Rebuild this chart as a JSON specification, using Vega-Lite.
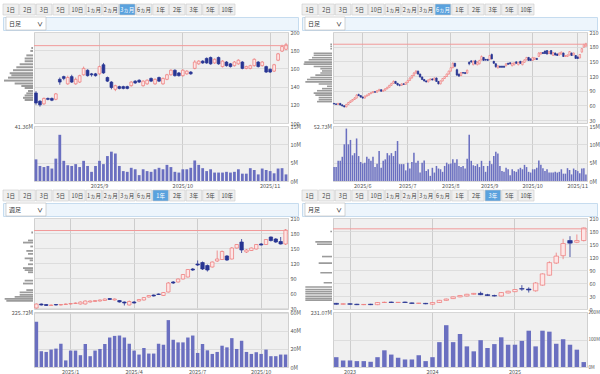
{
"$schema":"https://vega.github.io/schema/vega-lite/v6.json",
"padding":{"left":2,"top":3,"right":0,"bottom":0},
"background":"white",
"config":{"font":"Noto Sans CJK JP","view":{"stroke":null},
"axis":{"title":null,"domain":false,"ticks":false,"labelFontSize":5.5,"labelColor":"#555555","labelPadding":2,"labelOverlap":false,"minExtent":0,"gridColor":"#d8d8d8","gridWidth":0.8},
"title":{"fontSize":5.5,"fontWeight":"normal","color":"#555555"}},
"datasets":{
"btn":[{"b":"1日"},{"b":"2日"},{"b":"3日"},{"b":"5日"},{"b":"10日"},{"b":"1ヵ月"},{"b":"2ヵ月"},{"b":"3ヵ月"},{"b":"6ヵ月"},{"b":"1年"},{"b":"2年"},{"b":"3年"},{"b":"5年"},{"b":"10年"}],
"d":[
{"t":0,"o":64,"h":65,"l":62,"c":63,"v":3.8},{"t":1,"o":63,"h":64,"l":61,"c":62,"v":3.8},{"t":2,"o":62,"h":65,"l":61,"c":64,"v":5.5},{"t":3,"o":64,"h":65,"l":60,"c":61,"v":5.5},{"t":4,"o":61,"h":62,"l":58,"c":59,"v":6.6},{"t":5,"o":59,"h":60,"l":56,"c":57,"v":10},{"t":6,"o":57,"h":63,"l":56,"c":62,"v":14.3},{"t":7,"o":62,"h":67,"l":61,"c":66,"v":10},{"t":8,"o":66,"h":70,"l":65,"c":69,"v":11.2},{"t":9,"o":69,"h":73,"l":68,"c":72,"v":7},
{"t":10,"o":72,"h":77,"l":71,"c":75,"v":7.6},{"t":11,"o":75,"h":83,"l":74,"c":81,"v":11.6},{"t":12,"o":82,"h":84,"l":79,"c":80,"v":6.8},{"t":13,"o":80,"h":81,"l":76,"c":77,"v":5.2},{"t":14,"o":77,"h":78,"l":74,"c":75,"v":4.8},{"t":15,"o":75,"h":80,"l":74,"c":79,"v":5},{"t":16,"o":79,"h":82,"l":78,"c":81,"v":6.6},{"t":17,"o":81,"h":85,"l":80,"c":84,"v":6.1},{"t":18,"o":84,"h":87,"l":83,"c":86,"v":5.5},{"t":19,"o":86,"h":89,"l":85,"c":88,"v":6.6},
{"t":20,"o":88,"h":89,"l":86,"c":87,"v":3.8},{"t":21,"o":87,"h":91,"l":86,"c":90,"v":4.7},{"t":22,"o":90,"h":94,"l":89,"c":92,"v":8.2},{"t":23,"o":92,"h":93,"l":88,"c":89,"v":3.6},{"t":24,"o":89,"h":92,"l":88,"c":91,"v":5.5},{"t":25,"o":91,"h":95,"l":90,"c":94,"v":5.9},{"t":26,"o":94,"h":98,"l":93,"c":97,"v":7.6},{"t":27,"o":97,"h":102,"l":96,"c":101,"v":7},{"t":28,"o":101,"h":106,"l":100,"c":105,"v":7.6},{"t":29,"o":105,"h":111,"l":104,"c":109,"v":6.8},
{"t":30,"o":109,"h":110,"l":104,"c":105,"v":8.2},{"t":31,"o":105,"h":106,"l":100,"c":102,"v":10.9},{"t":32,"o":102,"h":103,"l":99,"c":101,"v":4.6},{"t":33,"o":101,"h":105,"l":100,"c":104,"v":4.6},{"t":34,"o":104,"h":105,"l":102,"c":103,"v":4.6},{"t":35,"o":103,"h":108,"l":102,"c":107,"v":2.9},{"t":36,"o":107,"h":112,"l":106,"c":111,"v":5},{"t":37,"o":111,"h":117,"l":110,"c":116,"v":3.4},{"t":38,"o":116,"h":122,"l":115,"c":121,"v":5.2},{"t":39,"o":121,"h":128,"l":120,"c":126,"v":7.7},
{"t":40,"o":126,"h":132,"l":125,"c":130,"v":5},{"t":41,"o":130,"h":131,"l":123,"c":124,"v":5.5},{"t":42,"o":124,"h":125,"l":117,"c":118,"v":2.3},{"t":43,"o":118,"h":119,"l":112,"c":113,"v":5},{"t":44,"o":113,"h":114,"l":109,"c":110,"v":5.6},{"t":45,"o":110,"h":111,"l":107,"c":108,"v":2.7},{"t":46,"o":108,"h":113,"l":107,"c":112,"v":3.2},{"t":47,"o":112,"h":115,"l":111,"c":114,"v":1.4},{"t":48,"o":114,"h":115,"l":111,"c":112,"v":3.6},{"t":49,"o":112,"h":117,"l":111,"c":116,"v":2.3},
{"t":50,"o":116,"h":117,"l":108,"c":109,"v":4.1},{"t":51,"o":109,"h":110,"l":103,"c":104,"v":3.4},{"t":52,"o":104,"h":111,"l":103,"c":110,"v":3.2},{"t":53,"o":110,"h":116,"l":109,"c":115,"v":2.5},{"t":54,"o":115,"h":120,"l":114,"c":119,"v":4.1},{"t":55,"o":119,"h":125,"l":118,"c":124,"v":5},{"t":56,"o":124,"h":131,"l":123,"c":130,"v":4.6},{"t":57,"o":130,"h":138,"l":129,"c":137,"v":4.8},{"t":58,"o":137,"h":148,"l":136,"c":146,"v":5.9},{"t":59,"o":146,"h":147,"l":138,"c":140,"v":5},
{"t":60,"o":133,"h":135,"l":120,"c":122,"v":5.9},{"t":61,"o":124,"h":125,"l":118,"c":120,"v":4.1},{"t":62,"o":121,"h":128,"l":120,"c":127,"v":3.8},{"t":63,"o":127,"h":128,"l":125,"c":126,"v":4.1},{"t":64,"o":127,"h":128,"l":124,"c":125,"v":3.4},{"t":65,"o":126,"h":133,"l":125,"c":132,"v":6.1},{"t":66,"o":148,"h":150,"l":142,"c":145,"v":12.6},{"t":67,"o":151,"h":152,"l":147,"c":149,"v":5.5},{"t":68,"o":143,"h":152,"l":142,"c":150,"v":4.3},{"t":69,"o":151,"h":153,"l":144,"c":145,"v":4.1},
{"t":70,"o":143,"h":150,"l":142,"c":148,"v":4.6},{"t":71,"o":145,"h":153,"l":144,"c":152,"v":3.8},{"t":72,"o":153,"h":162,"l":152,"c":160,"v":5.5},{"t":73,"o":158,"h":159,"l":151,"c":152,"v":4.1},{"t":74,"o":154,"h":155,"l":151,"c":153,"v":2.5},{"t":75,"o":154,"h":155,"l":151,"c":152,"v":4.1},{"t":76,"o":154,"h":163,"l":153,"c":162,"v":5.5},{"t":77,"o":164,"h":166,"l":154,"c":155,"v":4.6},{"t":78,"o":150,"h":151,"l":145,"c":146,"v":6.8},{"t":79,"o":145,"h":146,"l":137,"c":139,"v":8},
{"t":80,"o":137,"h":142,"l":135,"c":141,"v":7.5},{"t":81,"o":140,"h":141,"l":137,"c":138,"v":4.1},{"t":82,"o":140,"h":141,"l":137,"c":138,"v":2.7},{"t":83,"o":140,"h":141,"l":137,"c":138,"v":2.5},{"t":84,"o":141,"h":146,"l":140,"c":145,"v":3.6},{"t":85,"o":146,"h":147,"l":143,"c":144,"v":3.2},{"t":86,"o":147,"h":148,"l":144,"c":145,"v":1.6},{"t":87,"o":141,"h":147,"l":140,"c":146,"v":3.2},{"t":88,"o":143,"h":148,"l":142,"c":147,"v":2.7},{"t":89,"o":149,"h":150,"l":145,"c":146,"v":2.5},
{"t":90,"o":143,"h":149,"l":142,"c":148,"v":3.2},{"t":91,"o":150,"h":151,"l":145,"c":146,"v":3.6},{"t":92,"o":143,"h":150,"l":142,"c":149,"v":3.2},{"t":93,"o":148,"h":154,"l":147,"c":153,"v":4.4},{"t":94,"o":153,"h":159,"l":152,"c":158,"v":3.8},{"t":95,"o":158,"h":159,"l":151,"c":152,"v":2.5},{"t":96,"o":155,"h":156,"l":151,"c":152,"v":2.3},{"t":97,"o":152,"h":159,"l":151,"c":158,"v":3.2},{"t":98,"o":154,"h":158,"l":153,"c":157,"v":3.2},{"t":99,"o":156,"h":157,"l":153,"c":154,"v":3.6},
{"t":100,"o":160,"h":169,"l":159,"c":167,"v":5.6},{"t":101,"o":165,"h":169,"l":164,"c":168,"v":4.4},{"t":102,"o":168,"h":169,"l":165,"c":166,"v":3.5},{"t":103,"o":171,"h":172,"l":165,"c":166,"v":2.7},{"t":104,"o":172,"h":173,"l":164,"c":165,"v":3.2},{"t":105,"o":166,"h":171,"l":165,"c":170,"v":2.3},{"t":106,"o":172,"h":173,"l":164,"c":165,"v":2.3},{"t":107,"o":162,"h":169,"l":161,"c":168,"v":2.3},{"t":108,"o":167,"h":168,"l":162,"c":163,"v":2.5},{"t":109,"o":165,"h":166,"l":161,"c":162,"v":2.3},
{"t":110,"o":163,"h":168,"l":162,"c":167,"v":2.5},{"t":111,"o":165,"h":170,"l":164,"c":169,"v":3.2},{"t":112,"o":167,"h":168,"l":159,"c":160,"v":2},{"t":113,"o":160,"h":163,"l":159,"c":162,"v":2},{"t":114,"o":160,"h":164,"l":159,"c":163,"v":3.5},{"t":115,"o":163,"h":171,"l":162,"c":170,"v":3},{"t":116,"o":167,"h":168,"l":161,"c":162,"v":1.8},{"t":117,"o":163,"h":168,"l":162,"c":167,"v":3.4},{"t":118,"o":162,"h":163,"l":155,"c":156,"v":3},{"t":119,"o":159,"h":160,"l":155,"c":156,"v":2.7},
{"t":120,"o":157,"h":165,"l":156,"c":164,"v":2.1},{"t":121,"o":169,"h":177,"l":168,"c":176,"v":3.4},{"t":122,"o":179,"h":186,"l":178,"c":184,"v":3.5},{"t":123,"o":181,"h":188,"l":180,"c":186,"v":1.8}],
"w":[
{"t":0,"o":30,"h":39,"l":29,"c":38,"v":50.2},{"t":1,"o":38,"h":39,"l":35,"c":36,"v":17.5},{"t":2,"o":37,"h":38,"l":34,"c":35,"v":16.7},{"t":3,"o":35,"h":37,"l":34,"c":36,"v":19.3},{"t":4,"o":37,"h":38,"l":35,"c":36,"v":20.4},{"t":5,"o":36,"h":38,"l":35,"c":37,"v":25.8},{"t":6,"o":37,"h":39,"l":36,"c":38,"v":7.3},{"t":7,"o":38,"h":40,"l":37,"c":39,"v":18.2},{"t":8,"o":39,"h":41,"l":38,"c":40,"v":18.2},{"t":9,"o":38,"h":43,"l":37,"c":42,"v":13.1},
{"t":10,"o":38,"h":45,"l":37,"c":44,"v":25.5},{"t":11,"o":42,"h":45,"l":41,"c":44,"v":12},{"t":12,"o":43,"h":46,"l":42,"c":45,"v":18.2},{"t":13,"o":44,"h":47,"l":43,"c":46,"v":20},{"t":14,"o":45,"h":49,"l":44,"c":48,"v":25.5},{"t":15,"o":49,"h":50,"l":46,"c":47,"v":32.7},{"t":16,"o":46,"h":49,"l":45,"c":48,"v":34.5},{"t":17,"o":45,"h":46,"l":41,"c":42,"v":34.9},{"t":18,"o":42,"h":43,"l":35,"c":40,"v":32.7},{"t":19,"o":36,"h":45,"l":35,"c":43,"v":25.8},
{"t":20,"o":42,"h":44,"l":39,"c":40,"v":18.2},{"t":21,"o":44,"h":48,"l":43,"c":47,"v":13.8},{"t":22,"o":46,"h":52,"l":45,"c":51,"v":21.1},{"t":23,"o":52,"h":56,"l":51,"c":55,"v":14.9},{"t":24,"o":56,"h":57,"l":53,"c":54,"v":14.9},{"t":25,"o":58,"h":59,"l":56,"c":57,"v":25.8},{"t":26,"o":55,"h":62,"l":54,"c":61,"v":24.7},{"t":27,"o":62,"h":82,"l":61,"c":80,"v":52},{"t":28,"o":82,"h":84,"l":78,"c":80,"v":30.2},{"t":29,"o":82,"h":89,"l":81,"c":88,"v":27.3},
{"t":30,"o":88,"h":98,"l":87,"c":97,"v":27.3},{"t":31,"o":92,"h":108,"l":91,"c":107,"v":32.7},{"t":32,"o":108,"h":110,"l":104,"c":106,"v":34.9},{"t":33,"o":118,"h":125,"l":114,"c":116,"v":15.6},{"t":34,"o":121,"h":123,"l":106,"c":108,"v":25.5},{"t":35,"o":115,"h":117,"l":103,"c":106,"v":18.5},{"t":36,"o":112,"h":123,"l":111,"c":122,"v":14.5},{"t":37,"o":124,"h":145,"l":122,"c":128,"v":16.7},{"t":38,"o":127,"h":145,"l":126,"c":143,"v":23.6},{"t":39,"o":134,"h":136,"l":124,"c":126,"v":21.8},
{"t":40,"o":128,"h":152,"l":127,"c":150,"v":32},{"t":41,"o":150,"h":158,"l":149,"c":157,"v":20},{"t":42,"o":162,"h":168,"l":140,"c":146,"v":29.1},{"t":43,"o":142,"h":148,"l":140,"c":146,"v":16.7},{"t":44,"o":145,"h":151,"l":144,"c":150,"v":14.5},{"t":45,"o":148,"h":158,"l":147,"c":157,"v":16.4},{"t":46,"o":158,"h":160,"l":155,"c":156,"v":14.5},{"t":47,"o":157,"h":168,"l":156,"c":167,"v":19.3},{"t":48,"o":172,"h":173,"l":163,"c":165,"v":12},{"t":49,"o":168,"h":170,"l":160,"c":162,"v":12},
{"t":50,"o":163,"h":172,"l":157,"c":158,"v":13.8},{"t":51,"o":158,"h":188,"l":156,"c":186,"v":13.8}],
"m":[
{"t":0,"o":13,"h":14,"l":10,"c":11,"v":35.7},{"t":1,"o":11,"h":13,"l":10,"c":12,"v":23.8},{"t":2,"o":12,"h":13,"l":10,"c":11,"v":23.8},{"t":3,"o":11,"h":12,"l":9,"c":10,"v":21.4},{"t":4,"o":10,"h":11,"l":9,"c":10.5,"v":21.4},{"t":5,"o":11,"h":12,"l":9,"c":10,"v":19},{"t":6,"o":10,"h":16,"l":9,"c":15,"v":35.7},{"t":7,"o":15,"h":17,"l":14,"c":15.5,"v":60.7},{"t":8,"o":16,"h":17,"l":14,"c":15,"v":45.2},{"t":9,"o":15,"h":16,"l":14,"c":15.5,"v":33.3},
{"t":10,"o":16,"h":17,"l":14,"c":15,"v":27.4},{"t":11,"o":14,"h":15,"l":12,"c":13,"v":27.4},{"t":12,"o":13,"h":14,"l":12,"c":13.5,"v":42.8},{"t":13,"o":13,"h":14,"l":11,"c":12,"v":21.4},{"t":14,"o":11,"h":16,"l":10,"c":15,"v":35.7},{"t":15,"o":15,"h":21,"l":14,"c":20,"v":90.4},{"t":16,"o":20,"h":24,"l":19,"c":23,"v":152},{"t":17,"o":24,"h":29,"l":23,"c":28,"v":90.4},{"t":18,"o":28,"h":32,"l":27,"c":31,"v":120},{"t":19,"o":30,"h":35,"l":29,"c":34,"v":75},
{"t":20,"o":34,"h":37,"l":33,"c":36,"v":57},{"t":21,"o":36,"h":40,"l":32,"c":33,"v":97.6},{"t":22,"o":33,"h":35,"l":30,"c":31,"v":69},{"t":23,"o":31,"h":33,"l":29,"c":30,"v":83.3},{"t":24,"o":30,"h":39,"l":29,"c":38,"v":108},{"t":25,"o":37,"h":42,"l":36,"c":41,"v":81},{"t":26,"o":40,"h":46,"l":39,"c":45,"v":81},{"t":27,"o":47,"h":55,"l":42,"c":46,"v":95},{"t":28,"o":46,"h":50,"l":38,"c":44,"v":132},{"t":29,"o":42,"h":62,"l":40,"c":60,"v":75},
{"t":30,"o":55,"h":82,"l":54,"c":81,"v":132},{"t":31,"o":78,"h":110,"l":77,"c":107,"v":128.5},{"t":32,"o":106,"h":130,"l":104,"c":122,"v":84.5},{"t":33,"o":123,"h":162,"l":115,"c":151,"v":101},{"t":34,"o":158,"h":168,"l":120,"c":152,"v":81},{"t":35,"o":154,"h":172,"l":152,"c":158,"v":63},{"t":36,"o":158,"h":188,"l":156,"c":187,"v":17.9}],
"pTL":[{"p":186.5,"v":5},{"p":182.8,"v":8},{"p":177.3,"v":20},{"p":173.6,"v":25},{"p":170,"v":25},{"p":166.3,"v":40},{"p":162.6,"v":50},{"p":159,"v":60},{"p":155.3,"v":70},{"p":152.7,"v":65},{"p":149.8,"v":75},{"p":146.2,"v":87},{"p":142.5,"v":55},{"p":139.6,"v":35},{"p":137,"v":25},{"p":133.3,"v":15},{"p":130.4,"v":20},{"p":127.8,"v":25},{"p":124.9,"v":30},{"p":122.3,"v":25}],
"pTR":[{"p":193.1,"v":5},{"p":188.3,"v":5},{"p":182.9,"v":5},{"p":172.7,"v":55},{"p":168,"v":55},{"p":162.5,"v":60},{"p":157.8,"v":70},{"p":152.4,"v":83},{"p":147.6,"v":85},{"p":142.2,"v":55},{"p":137.4,"v":35},{"p":132,"v":30},{"p":127.3,"v":35},{"p":122.5,"v":50},{"p":117.1,"v":65},{"p":112.4,"v":75},{"p":107,"v":80},{"p":102.2,"v":40},{"p":96.8,"v":15},{"p":91.4,"v":30},{"p":86.6,"v":45},{"p":81.2,"v":55},{"p":76.5,"v":50},{"p":71.1,"v":40},{"p":66.3,"v":40},{"p":61.6,"v":45}],
"pBL":[{"p":188.7,"v":5},{"p":170.7,"v":15},{"p":166,"v":30},{"p":157.3,"v":8},{"p":147.3,"v":20},{"p":140.7,"v":15},{"p":130.7,"v":25},{"p":126,"v":10},{"p":117.3,"v":15},{"p":108.7,"v":30},{"p":104,"v":25},{"p":99.3,"v":15},{"p":80.7,"v":25},{"p":74,"v":30},{"p":59.3,"v":20},{"p":54,"v":40},{"p":48.7,"v":40},{"p":44,"v":55},{"p":39.3,"v":85},{"p":35.3,"v":80}],
"pBR":[{"p":188,"v":5},{"p":161,"v":50},{"p":155,"v":45},{"p":123,"v":30},{"p":106,"v":40},{"p":81,"v":35},{"p":55,"v":25},{"p":44,"v":80},{"p":37.5,"v":80},{"p":32,"v":80},{"p":26.5,"v":80},{"p":20,"v":80},{"p":15,"v":80},{"p":10,"v":80}]
},
"vconcat":[
{"hconcat":[
{"vconcat":[
{"width":232,"height":11,"data":{"name":"btn"},"encoding":{"x":{"field":"b","type":"nominal","sort":null,"axis":null,"scale":{"paddingInner":0.06,"paddingOuter":0}}},
"layer":[{"mark":{"type":"bar","stroke":"#c9c9c9","strokeWidth":0.6},"encoding":{"fill":{"condition":{"test":"datum.b==='3ヵ月'","value":"#5aa2de"},"value":"#efefef"}}},
{"mark":{"type":"text","fontSize":5.5},"encoding":{"text":{"field":"b"},"color":{"condition":{"test":"datum.b==='3ヵ月'","value":"#ffffff"},"value":"#444444"}}}]},
{"width":295,"height":13,"data":{"values":[{"s":"日足"}]},"view":{"fill":"#edf5fc","stroke":"#c6dcef"},
"layer":[{"mark":{"type":"bar","fill":"#ffffff","stroke":"#b8b8b8","strokeWidth":0.6},"encoding":{"x":{"field":"s","type":"nominal","axis":null,"scale":{"range":[3,43],"paddingInner":0,"paddingOuter":0}}}},
{"mark":{"type":"text","align":"left","dx":3,"fontSize":6,"color":"#333333"},"encoding":{"x":{"field":"s","type":"nominal","bandPosition":0,"axis":null},"text":{"field":"s"}}},
{"mark":{"type":"text","align":"right","dx":-3,"fontSize":6,"fontWeight":"bold","color":"#333333","text":"∨"},"encoding":{"x":{"field":"s","type":"nominal","bandPosition":1,"axis":null}}}]},
{"hconcat":[
{"width":30,"height":91,"data":{"name":"pTL"},"title":{"text":"41.36M","orient":"bottom","anchor":"end","offset":2,"frame":"group"},"mark":{"type":"bar","orient":"horizontal","size":2,"color":"#9b9b9b"},
"encoding":{"y":{"field":"p","type":"quantitative","scale":{"domain":[100,200],"nice":false,"zero":false},"axis":null},"x":{"field":"v","type":"quantitative","scale":{"domain":[0,90],"reverse":true},"axis":null}}},
{"vconcat":[
{"width":254,"height":91,"view":{"fill":"#f0f0f0","stroke":"#d0d0d0"},
"layer":[
{"data":{"name":"d"},"transform":[{"filter":"datum.t >= 60"}],
"encoding":{"x":{"field":"t","type":"ordinal","scale":{"paddingInner":0.3,"paddingOuter":0.15},"axis":{"values":[76,97,119],"labels":false,"grid":true,"gridColor":"#c4c4c4","bandPosition":0.5}}},
"layer":[
{"mark":{"type":"rule","strokeWidth":0.8},"encoding":{"y":{"field":"l","type":"quantitative","scale":{"domain":[100,200],"nice":false,"zero":false},"axis":{"orient":"right","values":[100,120,140,160,180,200],"grid":true}},"y2":{"field":"h"},"color":{"condition":{"test":"datum.c>=datum.o","value":"#ee7777"},"value":"#283593"}}},
{"mark":{"type":"bar","strokeWidth":0.7},"encoding":{"y":{"field":"o","type":"quantitative","scale":{"domain":[100,200],"nice":false,"zero":false},"axis":{"orient":"right","values":[100,120,140,160,180,200],"grid":true}},"y2":{"field":"c"},"fill":{"condition":{"test":"datum.c>=datum.o","value":"#fde6e6"},"value":"#283593"},"stroke":{"condition":{"test":"datum.c>=datum.o","value":"#ee7777"},"value":"#283593"}}}]},
{"data":{"values":[{"p":185}]},"mark":{"type":"rule","color":"#f19a9a","strokeWidth":1},"encoding":{"y":{"field":"p","type":"quantitative","scale":{"domain":[100,200],"nice":false,"zero":false},"axis":{"orient":"right","values":[100,120,140,160,180,200],"grid":true}}}}]},
{"width":254,"height":55,"data":{"name":"d"},"transform":[{"filter":"datum.t >= 60"}],"view":{"fill":"#f0f0f0","stroke":"#d0d0d0"},
"mark":{"type":"bar","color":"#6a6fc0"},
"encoding":{"x":{"field":"t","type":"ordinal","scale":{"paddingInner":0.3,"paddingOuter":0.15},"axis":{"values":[76,97,119],"labelExpr":"datum.value==76?'2025/9':datum.value==97?'2025/10':'2025/11'","labelAngle":0,"grid":true,"gridColor":"#c4c4c4","bandPosition":0.5}},
"y":{"field":"v","type":"quantitative","scale":{"domain":[0,15],"nice":false},"axis":{"orient":"right","values":[0,5,10,15],"labelExpr":"datum.value+'M'","grid":true}}}}
],"spacing":3,"bounds":"flush"}
],"spacing":1,"bounds":"flush"}
],"spacing":2,"bounds":"flush"},

{"vconcat":[
{"width":232,"height":11,"data":{"name":"btn"},"encoding":{"x":{"field":"b","type":"nominal","sort":null,"axis":null,"scale":{"paddingInner":0.06,"paddingOuter":0}}},
"layer":[{"mark":{"type":"bar","stroke":"#c9c9c9","strokeWidth":0.6},"encoding":{"fill":{"condition":{"test":"datum.b==='6ヵ月'","value":"#5aa2de"},"value":"#efefef"}}},
{"mark":{"type":"text","fontSize":5.5},"encoding":{"text":{"field":"b"},"color":{"condition":{"test":"datum.b==='6ヵ月'","value":"#ffffff"},"value":"#444444"}}}]},
{"width":295,"height":13,"data":{"values":[{"s":"日足"}]},"view":{"fill":"#edf5fc","stroke":"#c6dcef"},
"layer":[{"mark":{"type":"bar","fill":"#ffffff","stroke":"#b8b8b8","strokeWidth":0.6},"encoding":{"x":{"field":"s","type":"nominal","axis":null,"scale":{"range":[3,43],"paddingInner":0,"paddingOuter":0}}}},
{"mark":{"type":"text","align":"left","dx":3,"fontSize":6,"color":"#333333"},"encoding":{"x":{"field":"s","type":"nominal","bandPosition":0,"axis":null},"text":{"field":"s"}}},
{"mark":{"type":"text","align":"right","dx":-3,"fontSize":6,"fontWeight":"bold","color":"#333333","text":"∨"},"encoding":{"x":{"field":"s","type":"nominal","bandPosition":1,"axis":null}}}]},
{"hconcat":[
{"width":30,"height":91,"data":{"name":"pTR"},"title":{"text":"52.73M","orient":"bottom","anchor":"end","offset":2,"frame":"group"},"mark":{"type":"bar","orient":"horizontal","size":1.6,"color":"#9b9b9b"},
"encoding":{"y":{"field":"p","type":"quantitative","scale":{"domain":[24,210],"nice":false,"zero":false},"axis":null},"x":{"field":"v","type":"quantitative","scale":{"domain":[0,90],"reverse":true},"axis":null}}},
{"vconcat":[
{"width":254,"height":91,"view":{"fill":"#f0f0f0","stroke":"#d0d0d0"},
"layer":[
{"data":{"name":"d"},
"encoding":{"x":{"field":"t","type":"ordinal","scale":{"paddingInner":0.25,"paddingOuter":0.15},"axis":{"values":[14,36,57,76,97,119],"labels":false,"grid":true,"gridColor":"#c4c4c4","bandPosition":0.5}}},
"layer":[
{"mark":{"type":"rule","strokeWidth":0.7},"encoding":{"y":{"field":"l","type":"quantitative","scale":{"domain":[24,210],"nice":false,"zero":false},"axis":{"orient":"right","values":[30,60,90,120,150,180,210],"grid":true}},"y2":{"field":"h"},"color":{"condition":{"test":"datum.c>=datum.o","value":"#ee7777"},"value":"#283593"}}},
{"mark":{"type":"bar","strokeWidth":0.6},"encoding":{"y":{"field":"o","type":"quantitative","scale":{"domain":[24,210],"nice":false,"zero":false},"axis":{"orient":"right","values":[30,60,90,120,150,180,210],"grid":true}},"y2":{"field":"c"},"fill":{"condition":{"test":"datum.c>=datum.o","value":"#fde6e6"},"value":"#283593"},"stroke":{"condition":{"test":"datum.c>=datum.o","value":"#ee7777"},"value":"#283593"}}}]},
{"data":{"values":[{"p":185}]},"mark":{"type":"rule","color":"#f19a9a","strokeWidth":1},"encoding":{"y":{"field":"p","type":"quantitative","scale":{"domain":[24,210],"nice":false,"zero":false},"axis":{"orient":"right","values":[30,60,90,120,150,180,210],"grid":true}}}}]},
{"width":254,"height":55,"data":{"name":"d"},"view":{"fill":"#f0f0f0","stroke":"#d0d0d0"},
"mark":{"type":"bar","color":"#6a6fc0"},
"encoding":{"x":{"field":"t","type":"ordinal","scale":{"paddingInner":0.25,"paddingOuter":0.15},"axis":{"values":[14,36,57,76,97,119],"labelExpr":"datum.value==14?'2025/6':datum.value==36?'2025/7':datum.value==57?'2025/8':datum.value==76?'2025/9':datum.value==97?'2025/10':'2025/11'","labelAngle":0,"grid":true,"gridColor":"#c4c4c4","bandPosition":0.5}},
"y":{"field":"v","type":"quantitative","scale":{"domain":[0,15],"nice":false},"axis":{"orient":"right","values":[0,5,10,15],"labelExpr":"datum.value+'M'","grid":true}}}}
],"spacing":3,"bounds":"flush"}
],"spacing":1,"bounds":"flush"}
],"spacing":2,"bounds":"flush"}
],"spacing":-4},

{"hconcat":[
{"vconcat":[
{"width":232,"height":11,"data":{"name":"btn"},"encoding":{"x":{"field":"b","type":"nominal","sort":null,"axis":null,"scale":{"paddingInner":0.06,"paddingOuter":0}}},
"layer":[{"mark":{"type":"bar","stroke":"#c9c9c9","strokeWidth":0.6},"encoding":{"fill":{"condition":{"test":"datum.b==='1年'","value":"#5aa2de"},"value":"#efefef"}}},
{"mark":{"type":"text","fontSize":5.5},"encoding":{"text":{"field":"b"},"color":{"condition":{"test":"datum.b==='1年'","value":"#ffffff"},"value":"#444444"}}}]},
{"width":295,"height":13,"data":{"values":[{"s":"週足"}]},"view":{"fill":"#edf5fc","stroke":"#c6dcef"},
"layer":[{"mark":{"type":"bar","fill":"#ffffff","stroke":"#b8b8b8","strokeWidth":0.6},"encoding":{"x":{"field":"s","type":"nominal","axis":null,"scale":{"range":[3,43],"paddingInner":0,"paddingOuter":0}}}},
{"mark":{"type":"text","align":"left","dx":3,"fontSize":6,"color":"#333333"},"encoding":{"x":{"field":"s","type":"nominal","bandPosition":0,"axis":null},"text":{"field":"s"}}},
{"mark":{"type":"text","align":"right","dx":-3,"fontSize":6,"fontWeight":"bold","color":"#333333","text":"∨"},"encoding":{"x":{"field":"s","type":"nominal","bandPosition":1,"axis":null}}}]},
{"hconcat":[
{"width":30,"height":91,"data":{"name":"pBL"},"title":{"text":"225.72M","orient":"bottom","anchor":"end","offset":2,"frame":"group"},"mark":{"type":"bar","orient":"horizontal","size":1.8,"color":"#9b9b9b"},
"encoding":{"y":{"field":"p","type":"quantitative","scale":{"domain":[28,210],"nice":false,"zero":false},"axis":null},"x":{"field":"v","type":"quantitative","scale":{"domain":[0,90],"reverse":true},"axis":null}}},
{"vconcat":[
{"width":254,"height":91,"view":{"fill":"#f0f0f0","stroke":"#d0d0d0"},
"layer":[
{"data":{"name":"w"},
"encoding":{"x":{"field":"t","type":"ordinal","scale":{"paddingInner":0.3,"paddingOuter":0.15},"axis":{"values":[7,20,33,46],"labels":false,"grid":true,"gridColor":"#c4c4c4","bandPosition":0.5}}},
"layer":[
{"mark":{"type":"rule","strokeWidth":0.8},"encoding":{"y":{"field":"l","type":"quantitative","scale":{"domain":[28,210],"nice":false,"zero":false},"axis":{"orient":"right","values":[30,60,90,120,150,180,210],"grid":true}},"y2":{"field":"h"},"color":{"condition":{"test":"datum.c>=datum.o","value":"#ee7777"},"value":"#283593"}}},
{"mark":{"type":"bar","strokeWidth":0.7},"encoding":{"y":{"field":"o","type":"quantitative","scale":{"domain":[28,210],"nice":false,"zero":false},"axis":{"orient":"right","values":[30,60,90,120,150,180,210],"grid":true}},"y2":{"field":"c"},"fill":{"condition":{"test":"datum.c>=datum.o","value":"#fde6e6"},"value":"#283593"},"stroke":{"condition":{"test":"datum.c>=datum.o","value":"#ee7777"},"value":"#283593"}}}]},
{"data":{"values":[{"p":185}]},"mark":{"type":"rule","color":"#f19a9a","strokeWidth":1},"encoding":{"y":{"field":"p","type":"quantitative","scale":{"domain":[28,210],"nice":false,"zero":false},"axis":{"orient":"right","values":[30,60,90,120,150,180,210],"grid":true}}}}]},
{"width":254,"height":55,"data":{"name":"w"},"view":{"fill":"#f0f0f0","stroke":"#d0d0d0"},
"mark":{"type":"bar","color":"#6a6fc0"},
"encoding":{"x":{"field":"t","type":"ordinal","scale":{"paddingInner":0.3,"paddingOuter":0.15},"axis":{"values":[7,20,33,46],"labelExpr":"datum.value==7?'2025/1':datum.value==20?'2025/4':datum.value==33?'2025/7':'2025/10'","labelAngle":0,"grid":true,"gridColor":"#c4c4c4","bandPosition":0.5}},
"y":{"field":"v","type":"quantitative","scale":{"domain":[0,61],"nice":false},"axis":{"orient":"right","values":[0,20,40,60],"labelExpr":"datum.value+'M'","grid":true}}}}
],"spacing":3,"bounds":"flush"}
],"spacing":1,"bounds":"flush"}
],"spacing":2,"bounds":"flush"},

{"vconcat":[
{"width":232,"height":11,"data":{"name":"btn"},"encoding":{"x":{"field":"b","type":"nominal","sort":null,"axis":null,"scale":{"paddingInner":0.06,"paddingOuter":0}}},
"layer":[{"mark":{"type":"bar","stroke":"#c9c9c9","strokeWidth":0.6},"encoding":{"fill":{"condition":{"test":"datum.b==='3年'","value":"#5aa2de"},"value":"#efefef"}}},
{"mark":{"type":"text","fontSize":5.5},"encoding":{"text":{"field":"b"},"color":{"condition":{"test":"datum.b==='3年'","value":"#ffffff"},"value":"#444444"}}}]},
{"width":295,"height":13,"data":{"values":[{"s":"月足"}]},"view":{"fill":"#edf5fc","stroke":"#c6dcef"},
"layer":[{"mark":{"type":"bar","fill":"#ffffff","stroke":"#b8b8b8","strokeWidth":0.6},"encoding":{"x":{"field":"s","type":"nominal","axis":null,"scale":{"range":[3,43],"paddingInner":0,"paddingOuter":0}}}},
{"mark":{"type":"text","align":"left","dx":3,"fontSize":6,"color":"#333333"},"encoding":{"x":{"field":"s","type":"nominal","bandPosition":0,"axis":null},"text":{"field":"s"}}},
{"mark":{"type":"text","align":"right","dx":-3,"fontSize":6,"fontWeight":"bold","color":"#333333","text":"∨"},"encoding":{"x":{"field":"s","type":"nominal","bandPosition":1,"axis":null}}}]},
{"hconcat":[
{"width":30,"height":91,"data":{"name":"pBR"},"title":{"text":"231.07M","orient":"bottom","anchor":"end","offset":2,"frame":"group"},"mark":{"type":"bar","orient":"horizontal","size":1.6,"color":"#9b9b9b"},
"encoding":{"y":{"field":"p","type":"quantitative","scale":{"domain":[0,210],"nice":false,"zero":false},"axis":null},"x":{"field":"v","type":"quantitative","scale":{"domain":[0,90],"reverse":true},"axis":null}}},
{"vconcat":[
{"width":254,"height":91,"view":{"fill":"#f0f0f0","stroke":"#d0d0d0"},
"layer":[
{"data":{"name":"m"},
"encoding":{"x":{"field":"t","type":"ordinal","scale":{"paddingInner":0.35,"paddingOuter":0.15},"axis":{"values":[2,14,26],"labels":false,"grid":true,"gridColor":"#c4c4c4","bandPosition":0.5}}},
"layer":[
{"mark":{"type":"rule","strokeWidth":0.8},"encoding":{"y":{"field":"l","type":"quantitative","scale":{"domain":[0,210],"nice":false,"zero":false},"axis":{"orient":"right","values":[0,30,60,90,120,150,180,210],"grid":true}},"y2":{"field":"h"},"color":{"condition":{"test":"datum.c>=datum.o","value":"#ee7777"},"value":"#283593"}}},
{"mark":{"type":"bar","strokeWidth":0.7},"encoding":{"y":{"field":"o","type":"quantitative","scale":{"domain":[0,210],"nice":false,"zero":false},"axis":{"orient":"right","values":[0,30,60,90,120,150,180,210],"grid":true}},"y2":{"field":"c"},"fill":{"condition":{"test":"datum.c>=datum.o","value":"#fde6e6"},"value":"#283593"},"stroke":{"condition":{"test":"datum.c>=datum.o","value":"#ee7777"},"value":"#283593"}}}]},
{"data":{"values":[{"p":185}]},"mark":{"type":"rule","color":"#f19a9a","strokeWidth":1},"encoding":{"y":{"field":"p","type":"quantitative","scale":{"domain":[0,210],"nice":false,"zero":false},"axis":{"orient":"right","values":[0,30,60,90,120,150,180,210],"grid":true}}}}]},
{"width":254,"height":55,"data":{"name":"m"},"view":{"fill":"#f0f0f0","stroke":"#d0d0d0"},
"mark":{"type":"bar","color":"#6a6fc0"},
"encoding":{"x":{"field":"t","type":"ordinal","scale":{"paddingInner":0.35,"paddingOuter":0.15},"axis":{"values":[2,14,26],"labelExpr":"datum.value==2?'2023':datum.value==14?'2024':'2025'","labelAngle":0,"grid":true,"gridColor":"#c4c4c4","bandPosition":0.5}},
"y":{"field":"v","type":"quantitative","scale":{"domain":[0,200],"nice":false},"axis":{"orient":"right","values":[0,100,200],"labelExpr":"datum.value+'M'","grid":true,"labelPadding":1,"labelFontSize":4.6}}}}
],"spacing":3,"bounds":"flush"}
],"spacing":1,"bounds":"flush"}
],"spacing":2,"bounds":"flush"}
],"spacing":-4}
],
"spacing":0
}
